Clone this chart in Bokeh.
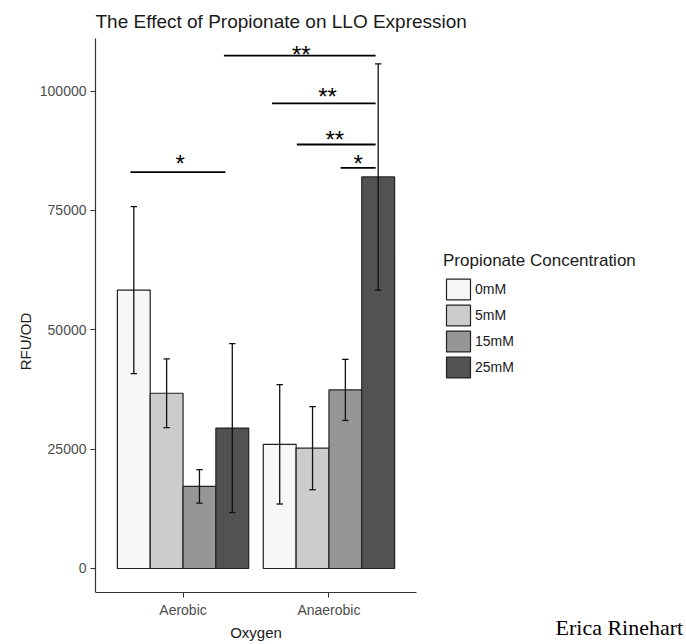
from bokeh.plotting import figure
from bokeh.models import Range1d, FixedTicker, Legend, LegendItem, Label
from bokeh.core.properties import value
from bokeh.embed import file_html
from bokeh.resources import INLINE

# ---------------- data ----------------
groups = ["Aerobic", "Anaerobic"]
concentrations = ["0mM", "5mM", "15mM", "25mM"]
aerobic_mean = [58300, 36700, 17200, 29400]
aerobic_err = [17500, 7200, 3500, 17700]
anaerobic_mean = [26000, 25200, 37400, 82000]
anaerobic_err = [12500, 8700, 6400, 23700]
fill_colors = ["#f7f7f7", "#cccccc", "#969696", "#525252"]
y_ticks = [0, 25000, 50000, 75000, 100000]

# significance brackets (x in category units, y in RFU/OD)
sig_x0 = [0.64, 1.28, 1.61, 1.78, 2.08]
sig_x1 = [1.29, 2.32, 2.32, 2.32, 2.32]
sig_y = [83000, 107400, 97400, 88800, 83900]
sig_label = ["*", "**", "**", "**", "*"]
sig_label_x = [0.98, 1.81, 1.99, 2.04, 2.20]
sig_label_y = [85700, 108500, 99600, 90700, 85700]

FONT = "Liberation Sans"

# panel geometry (ggplot-like): data panel is x 0.4..2.6, y -5030..111000
X_LO, X_HI = 0.4, 2.6
Y_LO, Y_HI = -5030, 111000
W, H = 686, 644
LEFT, TOP = 95, 38
PANEL_W, PANEL_H = 321, 554          # pixel size of the ggplot panel
px_x = (X_HI - X_LO) / PANEL_W       # data units per pixel
px_y = (Y_HI - Y_LO) / PANEL_H
frame_w, frame_h = W - LEFT, H - TOP
x_end = X_LO + frame_w * px_x
y_start = Y_HI - frame_h * px_y

p = figure(width=W, height=H, output_backend="svg", toolbar_location=None,
           x_range=Range1d(X_LO, x_end), y_range=Range1d(y_start, Y_HI),
           min_border_left=LEFT, min_border_right=0, min_border_top=TOP, min_border_bottom=0)
p.outline_line_color = None
p.xgrid.grid_line_color = None
p.ygrid.grid_line_color = None
p.background_fill_color = "white"
p.border_fill_color = "white"

p.title.text = "The Effect of Propionate on LLO Expression"
p.title.text_font = FONT
p.title.text_font_size = "19px"
p.title.text_font_style = "normal"
p.title.text_color = "#1a1a1a"
p.title.align = "left"
p.title.standoff = 13

# axes
p.xaxis.ticker = FixedTicker(ticks=[1, 2])
p.xaxis.major_label_overrides = {1: groups[0], 2: groups[1]}
p.xaxis.fixed_location = Y_LO
p.xaxis.bounds = (X_LO, X_HI)
p.yaxis.ticker = FixedTicker(ticks=y_ticks)
p.yaxis.major_label_overrides = {t: str(t) for t in y_ticks}
p.yaxis.bounds = (Y_LO, Y_HI)
for ax in (p.xaxis[0], p.yaxis[0]):
    ax.axis_line_color = "#333333"
    ax.axis_line_width = 1.2
    ax.major_tick_line_color = "#333333"
    ax.major_tick_in = 0
    ax.major_tick_out = 5
    ax.minor_tick_line_color = None
    ax.major_label_text_font = FONT
    ax.major_label_text_font_size = "14px"
    ax.major_label_text_color = "#4d4d4d"
    ax.axis_label_text_font = FONT
    ax.axis_label_text_font_size = "15px"
    ax.axis_label_text_font_style = "normal"
    ax.axis_label_text_color = "#1a1a1a"
    ax.major_label_standoff = 4
    ax.axis_label_standoff = 3
p.xaxis.axis_label = "Oxygen"
p.yaxis.axis_label = "RFU/OD"

# bars (dodged)
n = len(concentrations)
dodge_width = 0.9
bar_w = dodge_width / n
cap = 0.022
items = []
for i, conc in enumerate(concentrations):
    off = -dodge_width / 2 + bar_w * (i + 0.5)
    xs = [g + 1 + off for g in range(len(groups))]
    tops = [aerobic_mean[i], anaerobic_mean[i]]
    r = p.vbar(x=xs, top=tops, bottom=0, width=bar_w,
               fill_color=fill_colors[i], line_color="#222222", line_width=1.2)
    items.append(LegendItem(label=conc, renderers=[r], index=0))

# error bars
for i in range(n):
    off = -dodge_width / 2 + bar_w * (i + 0.5)
    xs = [g + 1 + off for g in range(len(groups))]
    tops = [aerobic_mean[i], anaerobic_mean[i]]
    errs = [aerobic_err[i], anaerobic_err[i]]
    lo = [t - e for t, e in zip(tops, errs)]
    hi = [t + e for t, e in zip(tops, errs)]
    p.segment(x0=xs, x1=xs, y0=lo, y1=hi, line_color="#111111", line_width=1.3)
    p.segment(x0=[x - cap for x in xs], x1=[x + cap for x in xs], y0=lo, y1=lo,
              line_color="#111111", line_width=1.3)
    p.segment(x0=[x - cap for x in xs], x1=[x + cap for x in xs], y0=hi, y1=hi,
              line_color="#111111", line_width=1.3)

# significance brackets
p.segment(x0=sig_x0, x1=sig_x1, y0=sig_y, y1=sig_y, line_color="black", line_width=1.8)
p.text(x=sig_label_x, y=sig_label_y, text=sig_label, text_font=value(FONT),
       text_font_size="24px", text_align="center", text_baseline="alphabetic",
       text_color="black", y_offset=4)

legend = Legend(items=items, location=(348, 264), title="Propionate Concentration",
                title_text_font=FONT, title_text_font_size="17px", title_text_font_style="normal",
                title_text_color="#1a1a1a", title_standoff=5,
                label_text_font=FONT, label_text_font_size="14px", label_text_color="#1a1a1a",
                glyph_width=30, glyph_height=26, label_height=26, label_standoff=2,
                spacing=0, padding=0, margin=0, border_line_color=None,
                background_fill_alpha=0)
p.add_layout(legend)

p.add_layout(Label(x=460, y=17, x_units="screen", y_units="screen",
                   text="Erica Rinehart", text_font="Liberation Serif",
                   text_font_size="22px", text_color="black", text_baseline="middle"))

open("out.html", "w").write(file_html(p, INLINE))
